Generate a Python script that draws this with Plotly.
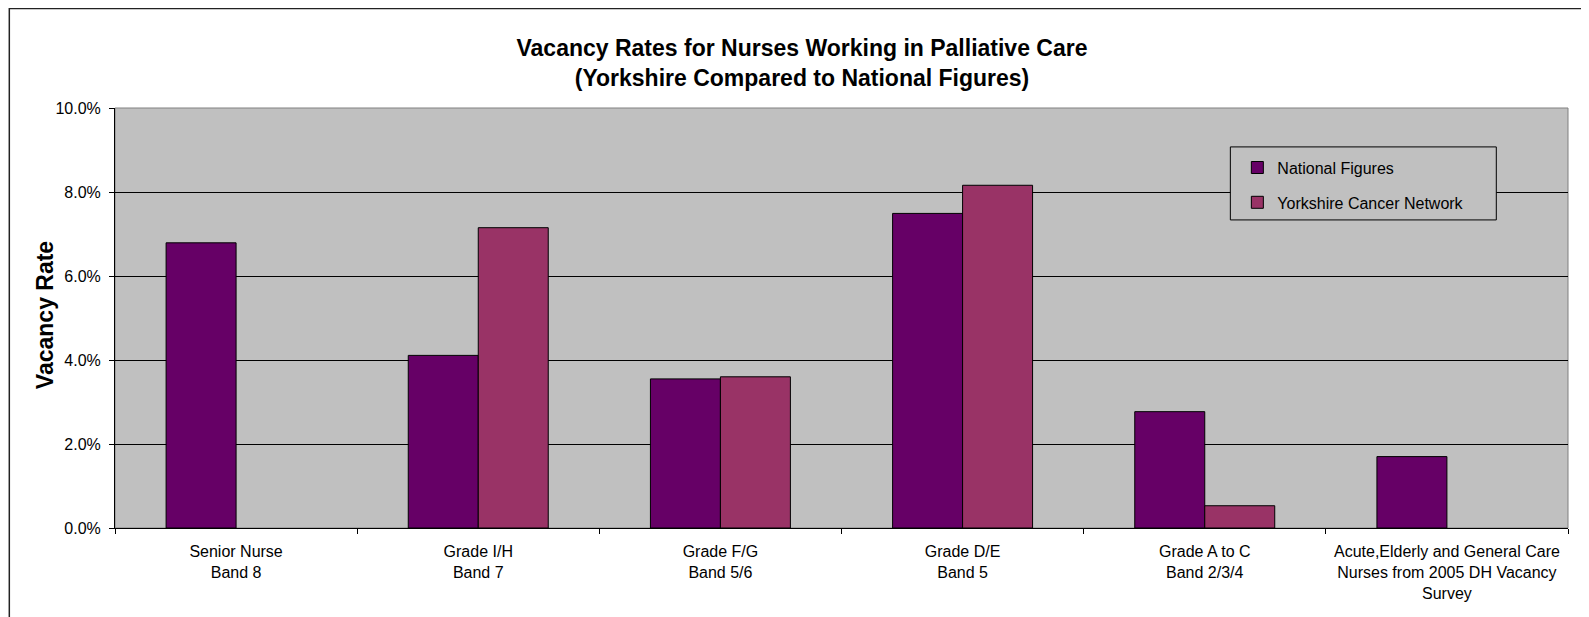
import plotly.graph_objects as go

categories = [
    "Senior Nurse<br>Band 8",
    "Grade I/H<br>Band 7",
    "Grade F/G<br>Band 5/6",
    "Grade D/E<br>Band 5",
    "Grade A to C<br>Band 2/3/4",
    "Acute,Elderly and General Care<br>Nurses from 2005 DH Vacancy<br>Survey",
]
national = [0.0679, 0.0411, 0.0355, 0.0749, 0.0277, 0.0170]
yorkshire = [None, 0.0715, 0.0360, 0.0816, 0.0053, None]

# page body adds 8px offset; figure coordinates below are screen - 8
W, H = 1581, 609
L, R, T, B = 106.5, 1559.7, 100.4, 520.3
pw, ph = R - L, B - T

def px(x):
    return (x - L) / pw

def py(y):
    return (B - y) / ph

FONT = "Liberation Sans, Arial, sans-serif"

fig = go.Figure()
fig.add_trace(go.Bar(
    x=categories, y=national, name="National Figures",
    marker=dict(color="#660066", line=dict(color="#000000", width=1)),
    legendgroup="a",
))
fig.add_trace(go.Bar(
    x=categories, y=yorkshire, name="Yorkshire Cancer Network",
    marker=dict(color="#993366", line=dict(color="#000000", width=1)),
    legendgroup="b",
))

fig.update_layout(
    width=W, height=H,
    margin=dict(l=L, r=W - R, t=T, b=H - B, autoexpand=False),
    paper_bgcolor="#FFFFFF",
    plot_bgcolor="#C0C0C0",
    barmode="group",
    bargap=0.422,
    bargroupgap=0,
    font=dict(family=FONT, color="#000000", size=16),
    title=dict(
        text="<b>Vacancy Rates for Nurses Working in Palliative Care<br>(Yorkshire Compared to National Figures)</b>",
        x=794 / W, xanchor="center", xref="container",
        y=1 - 48 / H, yanchor="middle", yref="container",
        font=dict(family=FONT, size=23, color="#000000"),
    ),
    legend=dict(
        x=px(1229), y=py(143), xanchor="left", yanchor="top",
        bgcolor="rgba(0,0,0,0)", borderwidth=0,
        font=dict(family=FONT, size=16, color="#000000"),
        traceorder="grouped", tracegroupgap=11,
        itemwidth=30,
    ),
    showlegend=True,
    annotations=[dict(
        text="<b>Vacancy Rate</b>", textangle=-90,
        xref="paper", yref="paper", x=px(36), y=py(308), xanchor="center", yanchor="middle",
        showarrow=False, font=dict(family=FONT, size=23, color="#000000"),
    )],
)

fig.update_yaxes(
    range=[0, 0.10], dtick=0.02, tickformat=".1%",
    showgrid=True, gridcolor="#000000", gridwidth=1,
    showline=True, linecolor="#000000", linewidth=1, mirror=False,
    ticks="outside", ticklen=5, tickcolor="#000000", ticklabelstandoff=5,
    tickfont=dict(family=FONT, size=16, color="#000000"),
    zeroline=False,
)
fig.update_xaxes(
    showline=True, linecolor="#000000", linewidth=1,
    ticks="outside", ticklen=5, tickcolor="#000000", tickson="boundaries",
    ticklabelstandoff=9,
    tickfont=dict(family=FONT, size=16, color="#000000"),
    showgrid=False,
)

# plot-area top/right edge
fig.add_shape(type="rect", xref="paper", yref="paper", x0=0, x1=1, y0=0, y1=1,
              line=dict(color="#808080", width=1), layer="below")
# legend box
fig.add_shape(type="rect", xref="paper", yref="paper",
              x0=px(1222), x1=px(1488), y0=py(212.3), y1=py(139.3),
              fillcolor="#C0C0C0", line=dict(color="#000000", width=1), layer="above")
# outer chart border
fig.add_shape(type="rect", xref="paper", yref="paper",
              x0=px(0.8), x1=px(1650), y0=py(700), y1=py(0.8),
              line=dict(color="#222222", width=1.5))

fig.write_html("out.html")
